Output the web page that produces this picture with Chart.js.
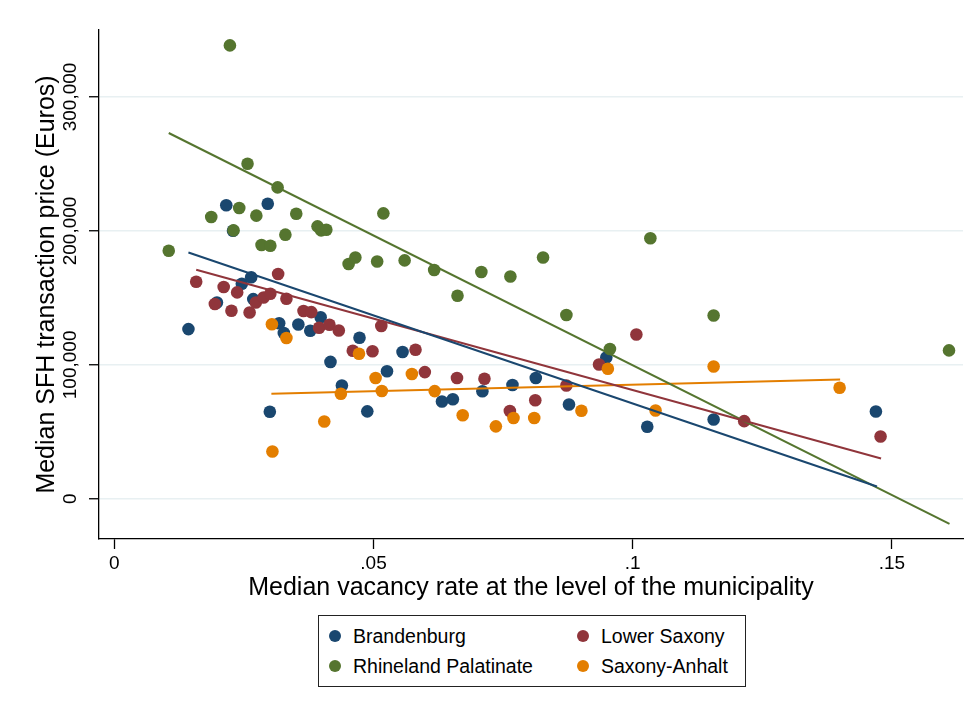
<!DOCTYPE html>
<html>
<head>
<meta charset="utf-8">
<script src="https://cdn.jsdelivr.net/npm/chart.js@4"></script>
<style>
  body { margin: 0; background: #fff; }
  #wrap { position: relative; width: 979px; height: 716px; }
  #legend {
    position: absolute; left: 318px; top: 615px; width: 426px; height: 70px;
    border: 1px solid #222; background: #fff;
    font: 19.5px "Liberation Sans", Arial, sans-serif; color: #000;
  }
  .item { position: absolute; height: 24px; line-height: 24px; white-space: nowrap; }
  .dot { position: absolute; left: 0; top: 6px; width: 12px; height: 12px; border-radius: 50%; }
  .lbl { position: absolute; left: 24px; top: 0; }
</style>
</head>
<body>
<div id="wrap">
  <canvas id="chart" width="979" height="716"></canvas>
  <div id="legend"></div>
</div>
<script>
const states = ['Brandenburg', 'Lower Saxony', 'Rhineland Palatinate', 'Saxony-Anhalt'];
const colors = ['#1a476f', '#90353b', '#55752f', '#e37e00'];

// Brandenburg
const bbVacancy = [0.0143, 0.0216, 0.0229, 0.0198, 0.0246, 0.0264, 0.0268, 0.0296, 0.0300, 0.0318,
  0.0327, 0.0355, 0.0378, 0.0398, 0.0417, 0.0439, 0.0473, 0.0488, 0.0526, 0.0556,
  0.0632, 0.0653, 0.0710, 0.0768, 0.0813, 0.0877, 0.0949, 0.1028, 0.1156, 0.1469];
const bbPrice = [126700, 219200, 200100, 146600, 160600, 165400, 149100, 220300, 65000, 131100,
  123800, 130100, 125500, 135500, 102200, 84600, 120200, 65300, 95200, 109600,
  72700, 74300, 80300, 85000, 90200, 70400, 105500, 53800, 59200, 65200];

// Lower Saxony
const lsVacancy = [0.0158, 0.0211, 0.0237, 0.0194, 0.0226, 0.0261, 0.0273, 0.0288, 0.0301, 0.0316,
  0.0332, 0.0365, 0.0380, 0.0395, 0.0415, 0.0433, 0.0460, 0.0498, 0.0515, 0.0581,
  0.0599, 0.0661, 0.0714, 0.0763, 0.0812, 0.0872, 0.0935, 0.1007, 0.1215, 0.1478];
const lsPrice = [162100, 158100, 154100, 145400, 140400, 139100, 146600, 150300, 153100, 167800,
  149400, 140200, 139400, 127700, 129900, 125700, 110500, 110200, 129000, 111300,
  94600, 90200, 89600, 65600, 73600, 84600, 100300, 122700, 58000, 46500];

// Rhineland Palatinate
const rpVacancy = [0.0105, 0.0223, 0.0187, 0.0241, 0.0230, 0.0257, 0.0274, 0.0284, 0.0301, 0.0315,
  0.0330, 0.0351, 0.0392, 0.0399, 0.0409, 0.0452, 0.0465, 0.0507, 0.0519, 0.0560,
  0.0617, 0.0662, 0.0708, 0.0764, 0.0827, 0.0872, 0.0956, 0.1034, 0.1156, 0.1610];
const rpPrice = [185200, 338500, 210400, 217100, 200400, 250200, 211400, 189500, 188900, 232500,
  197200, 212800, 203400, 200400, 200900, 175300, 180200, 177200, 213100, 178000,
  170800, 151600, 169300, 166000, 180200, 137200, 111800, 194500, 136900, 110800];

// Saxony-Anhalt
const saVacancy = [0.0304, 0.0332, 0.0305, 0.0405, 0.0437, 0.0472, 0.0504, 0.0516, 0.0574, 0.0618,
  0.0672, 0.0736, 0.0770, 0.0810, 0.0901, 0.0952, 0.1044, 0.1156, 0.1399];
const saPrice = [130300, 120100, 35300, 57700, 78400, 108300, 90200, 80500, 93200, 80400,
  62400, 54100, 60300, 60300, 65700, 97100, 65900, 98800, 82900];

// fitted lines (start / end)
const bbFitVacancy = [0.0143, 0.1471], bbFitPrice = [183900, 9200];
const lsFitVacancy = [0.0158, 0.1479], lsFitPrice = [171000, 30100];
const rpFitVacancy = [0.0105, 0.1611], rpFitPrice = [273100, -18700];
const saFitVacancy = [0.0303, 0.1400], saFitPrice = [78400, 89100];

const xTicks = [0, 0.05, 0.1, 0.15];
const xTickLabels = ['0', '.05', '.1', '.15'];
const yTicks = [0, 100000, 200000, 300000];
const yTickLabels = ['0', '100,000', '200,000', '300,000'];
const xTitle = 'Median vacancy rate at the level of the municipality';
const yTitle = 'Median SFH transaction price (Euros)';

const FONT = '"Liberation Sans", Arial, sans-serif';

const toPoints = (xs, ys) => xs.map((v, i) => ({ x: v, y: ys[i] }));

const groups = [
  [bbVacancy, bbPrice, bbFitVacancy, bbFitPrice],
  [lsVacancy, lsPrice, lsFitVacancy, lsFitPrice],
  [rpVacancy, rpPrice, rpFitVacancy, rpFitPrice],
  [saVacancy, saPrice, saFitVacancy, saFitPrice]
];

const datasets = [];
groups.forEach((g, i) => {
  datasets.push({
    label: states[i],
    data: toPoints(g[0], g[1]),
    backgroundColor: colors[i],
    pointRadius: 6.3,
    pointBorderWidth: 0,
    order: 4 - i
  });
});
groups.forEach((g, i) => {
  datasets.push({
    type: 'line',
    label: states[i] + ' fit',
    data: toPoints(g[2], g[3]),
    borderColor: colors[i],
    borderWidth: 2,
    pointRadius: 0,
    fill: false,
    order: 0
  });
});

// axis texts drawn with the scales' own pixel positions
const axisText = {
  id: 'axisText',
  afterDraw(chart) {
    const { ctx, chartArea, scales: { x, y } } = chart;
    ctx.save();
    ctx.fillStyle = '#000';

    ctx.font = '19px ' + FONT;
    ctx.textAlign = 'center';
    ctx.textBaseline = 'alphabetic';
    yTicks.forEach((v, i) => {
      ctx.save();
      ctx.translate(75.5, y.getPixelForValue(v));
      ctx.rotate(-Math.PI / 2);
      ctx.fillText(yTickLabels[i], 0, 0);
      ctx.restore();
    });
    xTicks.forEach((v, i) => {
      ctx.fillText(xTickLabels[i], x.getPixelForValue(v), 569);
    });

    ctx.font = '25px ' + FONT;
    ctx.fillText(xTitle, (chartArea.left + chartArea.right) / 2, 594.5);
    ctx.save();
    ctx.translate(54, (chartArea.top + chartArea.bottom) / 2);
    ctx.rotate(-Math.PI / 2);
    ctx.fillText(yTitle, 0, 0);
    ctx.restore();

    ctx.restore();
  }
};

const chart = new Chart(document.getElementById('chart'), {
  type: 'scatter',
  data: { datasets: datasets },
  options: {
    responsive: false,
    animation: false,
    layout: { padding: { left: 0, top: 30, right: 16, bottom: 107 } },
    plugins: { legend: { display: false }, tooltip: { enabled: false } },
    scales: {
      x: {
        type: 'linear',
        min: -0.00295,
        max: 0.1637,
        afterBuildTicks: s => { s.ticks = xTicks.map(v => ({ value: v })); },
        afterFit: s => { s.height = 70; },
        grid: { drawOnChartArea: false, tickLength: 10, tickColor: '#000', tickWidth: 1.3 },
        border: { display: true, color: '#000', width: 1.3 },
        ticks: { display: false }
      },
      y: {
        type: 'linear',
        min: -30000,
        max: 350000,
        afterBuildTicks: s => { s.ticks = yTicks.map(v => ({ value: v })); },
        afterFit: s => { s.width = 99; },
        grid: { color: '#e8f0f2', lineWidth: 1.5, tickLength: 10, tickColor: '#000', tickWidth: 1.3 },
        border: { display: true, color: '#000', width: 1.3 },
        ticks: { display: false }
      }
    }
  },
  plugins: [axisText]
});

// two-column legend, like the original
const legend = document.getElementById('legend');
const slots = [[10, 8], [258, 8], [10, 38], [258, 38]];
states.forEach((name, i) => {
  const item = document.createElement('div');
  item.className = 'item';
  item.style.left = slots[i][0] + 'px';
  item.style.top = slots[i][1] + 'px';
  item.innerHTML = '<span class="dot" style="background:' + colors[i] + '"></span><span class="lbl"></span>';
  item.querySelector('.lbl').textContent = name;
  legend.appendChild(item);
});
</script>
</body>
</html>
